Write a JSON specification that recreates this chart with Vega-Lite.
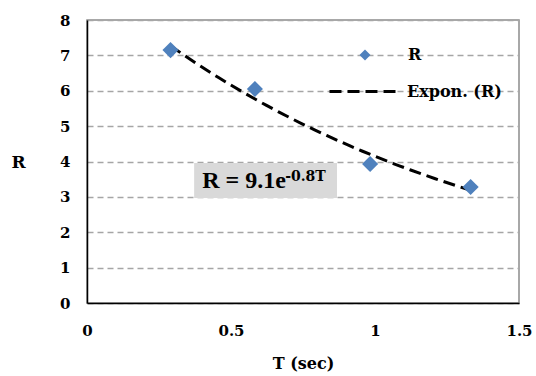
{
  "$schema": "https://vega.github.io/schema/vega-lite/v6.json",
  "width": 432,
  "height": 283,
  "autosize": {"type": "none"},
  "padding": {"left": 87, "top": 20, "right": 17, "bottom": 73},
  "background": "white",
  "config": {
    "font": "DejaVu Serif",
    "view": {"stroke": "#8c8c8c", "strokeWidth": 1.5},
    "axis": {
      "labelFont": "DejaVu Serif", "labelFontWeight": "bold", "labelFontSize": 15, "labelColor": "black",
      "titleFont": "DejaVu Serif", "titleFontWeight": "bold", "titleFontSize": 16, "titleColor": "black",
      "ticks": false, "domainColor": "black", "domainWidth": 1.5, "labelOverlap": false
    },
    "legend": {"labelFont": "DejaVu Serif", "labelFontWeight": "bold", "labelFontSize": 16, "labelColor": "black", "padding": 0}
  },
  "datasets": {
    "obs": [
      {"T": 0.29, "R": 7.15, "series": "R", "trend": "Expon. (R)"},
      {"T": 0.583, "R": 6.05, "series": "R", "trend": "Expon. (R)"},
      {"T": 0.983, "R": 3.93, "series": "R", "trend": "Expon. (R)"},
      {"T": 1.332, "R": 3.28, "series": "R", "trend": "Expon. (R)"}
    ]
  },
  "layer": [
    {
      "data": {"values": [{"a": 1}]},
      "mark": {"type": "rect", "fill": "#d9d9d9"},
      "encoding": {
        "x": {"datum": 0.372, "type": "quantitative", "scale": {"domain": [0, 1.5], "nice": false, "zero": false},
          "axis": {"title": "T (sec)", "values": [0, 0.5, 1, 1.5], "format": "~g", "grid": false, "labelPadding": 20, "labelFlush": false, "titlePadding": 17, "labelFont": "DejaVu Serif", "titleFont": "DejaVu Serif", "titleFontSize": 16}
        },
        "x2": {"datum": 0.868},
        "y": {"datum": 3.96, "type": "quantitative", "scale": {"domain": [0, 8], "nice": false, "zero": false},
          "axis": {"title": "R", "values": [0, 1, 2, 3, 4, 5, 6, 7, 8], "format": "~g", "grid": true, "gridColor": "#a6a6a6", "gridDash": [6, 4], "gridWidth": 1.5, "labelPadding": 17, "labelFont": "DejaVu Serif", "titleFont": "DejaVu Serif", "titleFontSize": 17, "titleAngle": 0, "titleX": -69, "titleY": 142, "titleAlign": "center", "titleBaseline": "middle"}
        },
        "y2": {"datum": 2.97}
      }
    },
    {
      "data": {"name": "obs"},
      "transform": [{"regression": "R", "on": "T", "method": "exp", "groupby": ["trend"]}],
      "mark": {"type": "line", "color": "black", "strokeWidth": 3},
      "encoding": {
        "x": {"field": "T", "type": "quantitative", "scale": {"domain": [0, 1.5], "nice": false, "zero": false},
          "axis": {"title": "T (sec)", "values": [0, 0.5, 1, 1.5], "format": "~g", "grid": false, "labelPadding": 20, "labelFlush": false, "titlePadding": 17, "labelFont": "DejaVu Serif", "titleFont": "DejaVu Serif", "titleFontSize": 16}
        },
        "y": {"field": "R", "type": "quantitative", "scale": {"domain": [0, 8], "nice": false, "zero": false},
          "axis": {"title": "R", "values": [0, 1, 2, 3, 4, 5, 6, 7, 8], "format": "~g", "grid": true, "gridColor": "#a6a6a6", "gridDash": [6, 4], "gridWidth": 1.5, "labelPadding": 17, "labelFont": "DejaVu Serif", "titleFont": "DejaVu Serif", "titleFontSize": 17, "titleAngle": 0, "titleX": -69, "titleY": 142, "titleAlign": "center", "titleBaseline": "middle"}
        },
        "strokeDash": {
          "field": "trend", "type": "nominal",
          "scale": {"domain": ["Expon. (R)"], "range": [[12, 6]]},
          "legend": {
            "title": null, "orient": "none", "legendX": 241, "legendY": 35,
            "symbolSize": 4900, "symbolStrokeWidth": 3, "symbolStrokeColor": "black", "labelOffset": 6
          }
        }
      }
    },
    {
      "data": {"name": "obs"},
      "mark": {"type": "point", "shape": "diamond", "filled": true, "size": 260, "opacity": 1},
      "encoding": {
        "x": {"field": "T", "type": "quantitative", "scale": {"domain": [0, 1.5], "nice": false, "zero": false},
          "axis": {"title": "T (sec)", "values": [0, 0.5, 1, 1.5], "format": "~g", "grid": false, "labelPadding": 20, "labelFlush": false, "titlePadding": 17, "labelFont": "DejaVu Serif", "titleFont": "DejaVu Serif", "titleFontSize": 16}
        },
        "y": {"field": "R", "type": "quantitative", "scale": {"domain": [0, 8], "nice": false, "zero": false},
          "axis": {"title": "R", "values": [0, 1, 2, 3, 4, 5, 6, 7, 8], "format": "~g", "grid": true, "gridColor": "#a6a6a6", "gridDash": [6, 4], "gridWidth": 1.5, "labelPadding": 17, "labelFont": "DejaVu Serif", "titleFont": "DejaVu Serif", "titleFontSize": 17, "titleAngle": 0, "titleX": -69, "titleY": 142, "titleAlign": "center", "titleBaseline": "middle"}
        },
        "color": {
          "field": "series", "type": "nominal",
          "scale": {"domain": ["R"], "range": ["#4F81BD"]},
          "legend": {
            "title": null, "orient": "none", "legendX": 270, "legendY": 27,
            "symbolType": "diamond", "symbolSize": 121, "labelOffset": 35
          }
        }
      }
    },
    {
      "data": {"values": [{"label": "R = 9.1e"}]},
      "mark": {"type": "text", "font": "Liberation Serif", "fontWeight": "bold", "fontSize": 24, "align": "left", "baseline": "alphabetic", "color": "black"},
      "encoding": {
        "x": {"datum": 0.40, "type": "quantitative", "scale": {"domain": [0, 1.5], "nice": false, "zero": false},
          "axis": {"title": "T (sec)", "values": [0, 0.5, 1, 1.5], "format": "~g", "grid": false, "labelPadding": 20, "labelFlush": false, "titlePadding": 17, "labelFont": "DejaVu Serif", "titleFont": "DejaVu Serif", "titleFontSize": 16}
        },
        "y": {"datum": 3.24, "type": "quantitative", "scale": {"domain": [0, 8], "nice": false, "zero": false},
          "axis": {"title": "R", "values": [0, 1, 2, 3, 4, 5, 6, 7, 8], "format": "~g", "grid": true, "gridColor": "#a6a6a6", "gridDash": [6, 4], "gridWidth": 1.5, "labelPadding": 17, "labelFont": "DejaVu Serif", "titleFont": "DejaVu Serif", "titleFontSize": 17, "titleAngle": 0, "titleX": -69, "titleY": 142, "titleAlign": "center", "titleBaseline": "middle"}
        },
        "text": {"field": "label"}
      }
    },
    {
      "data": {"values": [{"label": "-0.8T"}]},
      "mark": {"type": "text", "font": "DejaVu Serif", "fontWeight": "bold", "fontSize": 14, "align": "left", "baseline": "alphabetic", "color": "black"},
      "encoding": {
        "x": {"datum": 0.688, "type": "quantitative", "scale": {"domain": [0, 1.5], "nice": false, "zero": false},
          "axis": {"title": "T (sec)", "values": [0, 0.5, 1, 1.5], "format": "~g", "grid": false, "labelPadding": 20, "labelFlush": false, "titlePadding": 17, "labelFont": "DejaVu Serif", "titleFont": "DejaVu Serif", "titleFontSize": 16}
        },
        "y": {"datum": 3.45, "type": "quantitative", "scale": {"domain": [0, 8], "nice": false, "zero": false},
          "axis": {"title": "R", "values": [0, 1, 2, 3, 4, 5, 6, 7, 8], "format": "~g", "grid": true, "gridColor": "#a6a6a6", "gridDash": [6, 4], "gridWidth": 1.5, "labelPadding": 17, "labelFont": "DejaVu Serif", "titleFont": "DejaVu Serif", "titleFontSize": 17, "titleAngle": 0, "titleX": -69, "titleY": 142, "titleAlign": "center", "titleBaseline": "middle"}
        },
        "text": {"field": "label"}
      }
    }
  ]
}
